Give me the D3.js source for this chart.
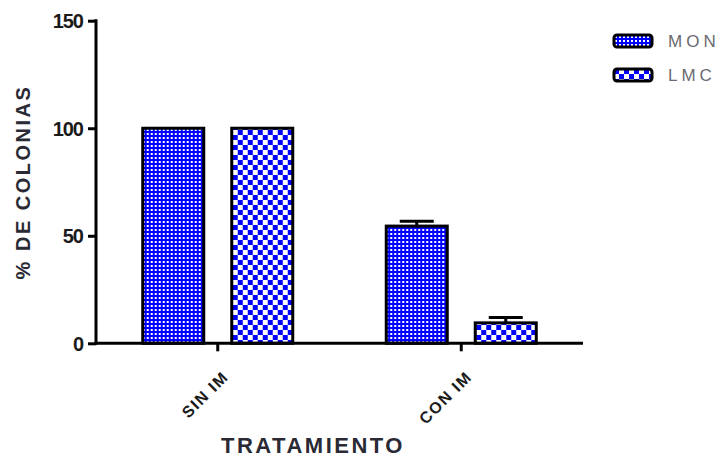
<!DOCTYPE html>
<html>
<head>
<meta charset="utf-8">
<script src="https://cdn.jsdelivr.net/npm/d3@7"></script>
<style>
  body { margin: 0; background: #fff; }
  svg { display: block; }
</style>
</head>
<body>
<svg id="chart" width="722" height="462"></svg>
<script>
const categories = ["SIN IM", "CON IM"];
const seriesNames = ["MON", "LMC"];
const monValues = [100, 54.5];
const monErrors = [0, 2.2];
const lmcValues = [100, 9.5];
const lmcErrors = [0, 2.5];
const yTicks = [0, 50, 100, 150];
const yLabel = "% DE COLONIAS";
const xLabel = "TRATAMIENTO";

const W = 722, H = 462;
const margin = { left: 96, top: 20.7, right: 139, bottom: 118.7 };
const svg = d3.select("#chart");

// patterns
const defs = svg.append("defs");
const p1 = defs.append("pattern").attr("id", "patMON").attr("patternUnits", "userSpaceOnUse")
  .attr("width", 4).attr("height", 4);
p1.append("rect").attr("width", 4).attr("height", 4).attr("fill", "#0000ff");
p1.append("rect").attr("x", 1).attr("y", 1).attr("width", 2).attr("height", 2).attr("fill", "#ffffff");

const p2 = defs.append("pattern").attr("id", "patLMC").attr("patternUnits", "userSpaceOnUse")
  .attr("width", 10).attr("height", 10);
p2.append("rect").attr("width", 10).attr("height", 10).attr("fill", "#ffffff");
p2.append("rect").attr("x", 0).attr("y", 0).attr("width", 5).attr("height", 5).attr("fill", "#0000ff");
p2.append("rect").attr("x", 5).attr("y", 5).attr("width", 5).attr("height", 5).attr("fill", "#0000ff");

const x0 = d3.scaleBand().domain(categories).range([margin.left, W - margin.right]).padding(0);
const x1 = d3.scaleBand().domain(seriesNames).range([-75, 75]).paddingInner(28 / 89).paddingOuter(0);
const y = d3.scaleLinear().domain([0, 150]).range([H - margin.bottom, margin.top]);

const data = categories.map((c, i) => ({
  cat: c,
  items: [
    { s: "MON", v: monValues[i], e: monErrors[i], fill: "url(#patMON)" },
    { s: "LMC", v: lmcValues[i], e: lmcErrors[i], fill: "url(#patLMC)" }
  ]
}));

const groups = svg.selectAll("g.grp").data(data).enter().append("g")
  .attr("class", "grp")
  .attr("transform", d => `translate(${x0(d.cat) + x0.bandwidth() / 2},0)`);

// error bars (upper only)
groups.selectAll("g.err").data(d => d.items.filter(it => it.e > 0)).enter().append("g").attr("class", "err")
  .each(function (d) {
    const g = d3.select(this);
    const cx = x1(d.s) + x1.bandwidth() / 2;
    g.append("line").attr("x1", cx).attr("x2", cx).attr("y1", y(d.v)).attr("y2", y(d.v + d.e))
      .attr("stroke", "#000").attr("stroke-width", 3);
    g.append("line").attr("x1", cx - 17).attr("x2", cx + 17).attr("y1", y(d.v + d.e)).attr("y2", y(d.v + d.e))
      .attr("stroke", "#000").attr("stroke-width", 3);
  });

groups.selectAll("rect.bar").data(d => d.items).enter().append("rect")
  .attr("class", "bar")
  .attr("x", d => x1(d.s))
  .attr("width", x1.bandwidth())
  .attr("y", d => y(d.v))
  .attr("height", d => y(0) - y(d.v))
  .attr("fill", d => d.fill)
  .attr("stroke", "#000")
  .attr("stroke-width", 3);

// Y axis
const yAxis = d3.axisLeft(y).tickValues(yTicks).tickSize(8).tickPadding(5).tickSizeOuter(0);
const gy = svg.append("g").attr("transform", `translate(${margin.left},0)`).call(yAxis);
gy.select(".domain").attr("stroke", "#000").attr("stroke-width", 3)
  .attr("d", `M0,${y(150) - 1.5}V${y(0) + 1.5}`);
gy.selectAll(".tick line").attr("stroke", "#000").attr("stroke-width", 3);
gy.selectAll(".tick text").attr("font-family", "Liberation Sans, Arial, sans-serif")
  .attr("font-weight", "bold").attr("font-size", 20).attr("letter-spacing", "-1px")
  .attr("fill", "#1a1a1a").attr("dy", "0.36em");

// X axis
const xAxis = d3.axisBottom(x0).tickSize(8).tickPadding(0).tickSizeOuter(0);
const gx = svg.append("g").attr("transform", `translate(0,${y(0)})`).call(xAxis);
gx.select(".domain").attr("stroke", "#000").attr("stroke-width", 3)
  .attr("d", `M${margin.left - 1.5},0H${W - margin.right}`);
gx.selectAll(".tick line").attr("stroke", "#000").attr("stroke-width", 3);
gx.selectAll(".tick text")
  .attr("font-family", "Liberation Sans, Arial, sans-serif")
  .attr("font-weight", "bold").attr("font-size", 16).attr("letter-spacing", "1.5px")
  .attr("fill", "#1a1a1a")
  .attr("text-anchor", "end")
  .attr("dy", null)
  .attr("transform", "translate(6,29) rotate(-45)");

// Axis titles
svg.append("text")
  .attr("transform", `translate(30,${(y(0) + y(150)) / 2}) rotate(-90)`)
  .attr("text-anchor", "middle")
  .attr("font-family", "Liberation Sans, Arial, sans-serif")
  .attr("font-weight", "bold").attr("font-size", 20)
  .attr("letter-spacing", "2.5px")
  .attr("fill", "#2a2a35")
  .text(yLabel);

svg.append("text")
  .attr("x", 313).attr("y", 453)
  .attr("text-anchor", "middle")
  .attr("font-family", "Liberation Sans, Arial, sans-serif")
  .attr("font-weight", "bold").attr("font-size", 22)
  .attr("letter-spacing", "2.5px")
  .attr("fill", "#2a2a35")
  .text(xLabel);

// Legend
const legend = svg.append("g").attr("transform", "translate(614,35)");
const legItems = [
  { s: seriesNames[0], fill: "url(#patMON)" },
  { s: seriesNames[1], fill: "url(#patLMC)" }
];
const li = legend.selectAll("g").data(legItems).enter().append("g")
  .attr("transform", (d, i) => `translate(0,${i * 34})`);
li.append("rect").attr("x", 0).attr("y", 0).attr("width", 38).attr("height", 12)
  .attr("rx", 3).attr("fill", d => d.fill).attr("stroke", "#000").attr("stroke-width", 3);
li.append("text").attr("x", 54).attr("y", 6).attr("dy", "0.36em")
  .attr("font-family", "Liberation Sans, Arial, sans-serif")
  .attr("font-size", 17).attr("letter-spacing", "4px")
  .attr("fill", "#6a6a70")
  .text(d => d.s);
</script>
</body>
</html>
